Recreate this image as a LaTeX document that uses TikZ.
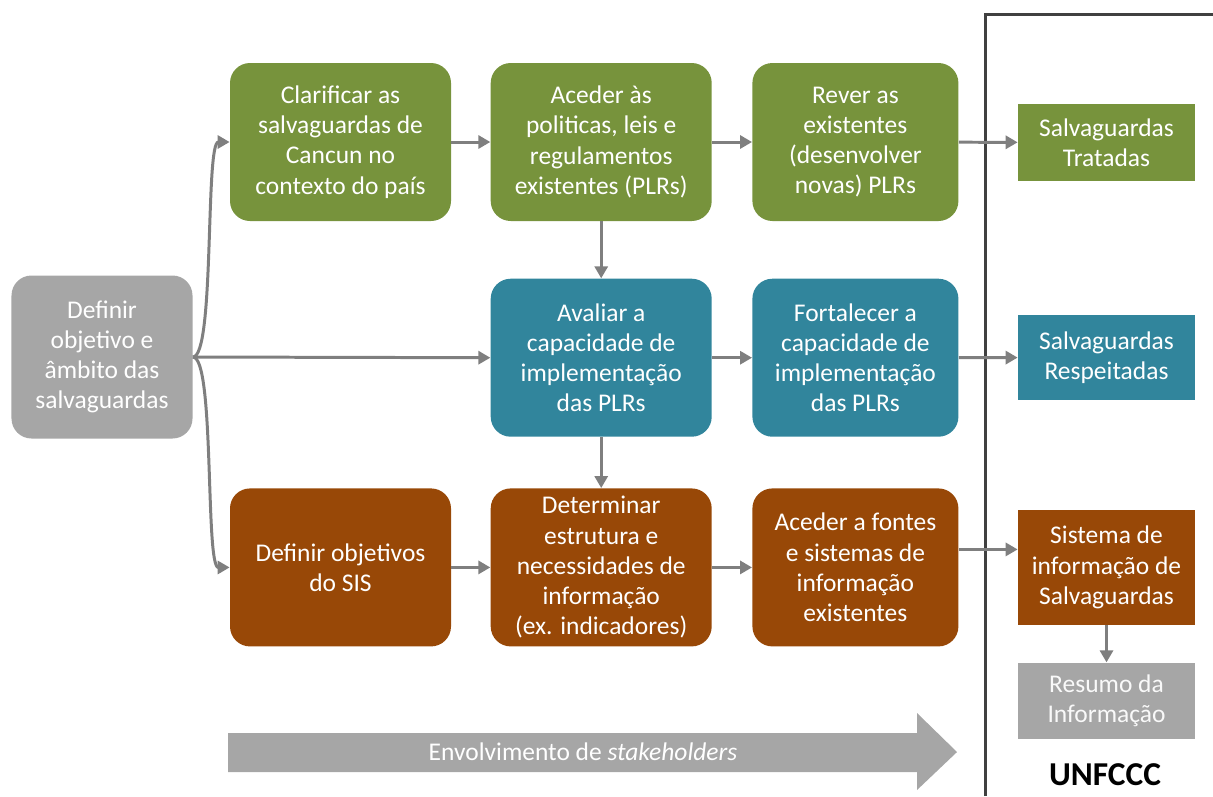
\documentclass[tikz,border=0pt]{standalone}
\usepackage{fontspec}
\setmainfont{Carlito}
\usetikzlibrary{positioning,arrows.meta}

\definecolor{verde}{HTML}{77933C}
\definecolor{azul}{HTML}{31859C}
\definecolor{castanho}{HTML}{984807}
\definecolor{cinza}{HTML}{A6A6A6}
\definecolor{cinzaseta}{HTML}{7F7F7F}
\definecolor{linha}{HTML}{404040}

\tikzset{
passo/.style={rectangle, rounded corners=0.4cm, text=white, align=center, minimum width=4.42cm, minimum height=3.16cm, inner sep=1pt, font=\fontsize{14.5}{17.2}\selectfont},
resultado/.style={rectangle, text=white, align=center, minimum width=3.54cm, inner sep=1pt, font=\fontsize{14.5}{17.2}\selectfont},
liga/.style={draw=cinzaseta, line width=1.7pt, -{Triangle[length=0.24cm,width=0.26cm]}}
}

\begin{document}
\begin{tikzpicture}[node distance=0.78cm]
\useasboundingbox (0,0) rectangle (24.26,-15.92);

% coluna de partida
\node (def) [passo, fill=cinza, minimum width=3.62cm, minimum height=3.26cm] at (2.04,-7.14) {Definir\\objetivo e\\âmbito das\\salvaguardas};

% linha verde
\node (clar) [passo, fill=verde] at (6.81,-2.84) {Clarificar as\\salvaguardas de\\Cancun no\\contexto do país};
\node (acpl) [passo, fill=verde, right=of clar] {Aceder às\\politicas, leis e\\regulamentos\\existentes (PLRs)};
\node (rever) [passo, fill=verde, minimum width=4.12cm, right=0.8cm of acpl] {Rever as\\existentes\\(desenvolver\\novas) PLRs};

% linha azul
\node (aval) [passo, fill=azul, below=1.14cm of acpl] {Avaliar a\\capacidade de\\implementação\\das PLRs};
\node (fort) [passo, fill=azul, minimum width=4.12cm, right=0.8cm of aval] {Fortalecer a\\capacidade de\\implementação\\das PLRs};

% linha castanha
\node (det) [passo, fill=castanho, below=1.02cm of aval] {Determinar\\estrutura e\\necessidades de\\informação\\(ex. indicadores)};
\node (defsis) [passo, fill=castanho, left=of det] {Definir objetivos\\do SIS};
\node (fontes) [passo, fill=castanho, minimum width=4.12cm, right=0.8cm of det] {Aceder a fontes\\e sistemas de\\informação\\existentes};

% UNFCCC
\node (trat) [resultado, fill=verde, minimum height=1.54cm] at (22.13,-2.85) {Salvaguardas\\Tratadas};
\node (resp) [resultado, fill=azul, minimum height=1.70cm] at (22.13,-7.15) {Salvaguardas\\Respeitadas};
\node (sis) [resultado, fill=castanho, minimum height=2.30cm] at (22.13,-11.35) {Sistema de\\informação de\\Salvaguardas};
\node (res) [resultado, fill=cinza, minimum height=1.52cm, text=white!95!gray, below=0.74cm of sis] {Resumo da\\Informação};
\node (unf) [font=\fontsize{19}{22}\selectfont\bfseries] at (22.10,-15.5) {UNFCCC};
\draw[linha, line width=1.7pt] (19.7,-15.92) -- (19.7,-0.28) -- (24.4,-0.28);

% envolvimento
\fill[cinza] (4.56,-14.66) -- (18.34,-14.66) -- (18.34,-14.26) -- (19.14,-15.04)
  -- (18.34,-15.80) -- (18.34,-15.44) -- (4.56,-15.44) -- cycle;
\node (env) [text=white, font=\fontsize{14.5}{17.2}\selectfont] at (11.66,-15.04) {Envolvimento de \textit{stakeholders}};

% ligacoes
\draw[liga] (def.east) .. controls (4.3,-7.14) and (4.1,-2.84) .. (clar.west);
\draw[liga] (def.east) .. controls (4.3,-7.14) and (4.1,-11.35) .. (defsis.west);
\draw[liga] (def.east) -- (aval.west);
\draw[liga] (clar) -- (acpl);
\draw[liga] (acpl) -- (rever);
\draw[liga] (rever) -- (trat);
\draw[liga] (acpl) -- (aval);
\draw[liga] (aval) -- (fort);
\draw[liga] (fort) -- (resp);
\draw[liga] (aval) -- (det);
\draw[liga] (defsis) -- (det);
\draw[liga] (det) -- (fontes);
\draw[liga] ([yshift=0.36cm]fontes.east) -- ([yshift=0.36cm]fontes.east -| sis.west);
\draw[liga] (sis) -- (res);

\end{tikzpicture}
\end{document}
